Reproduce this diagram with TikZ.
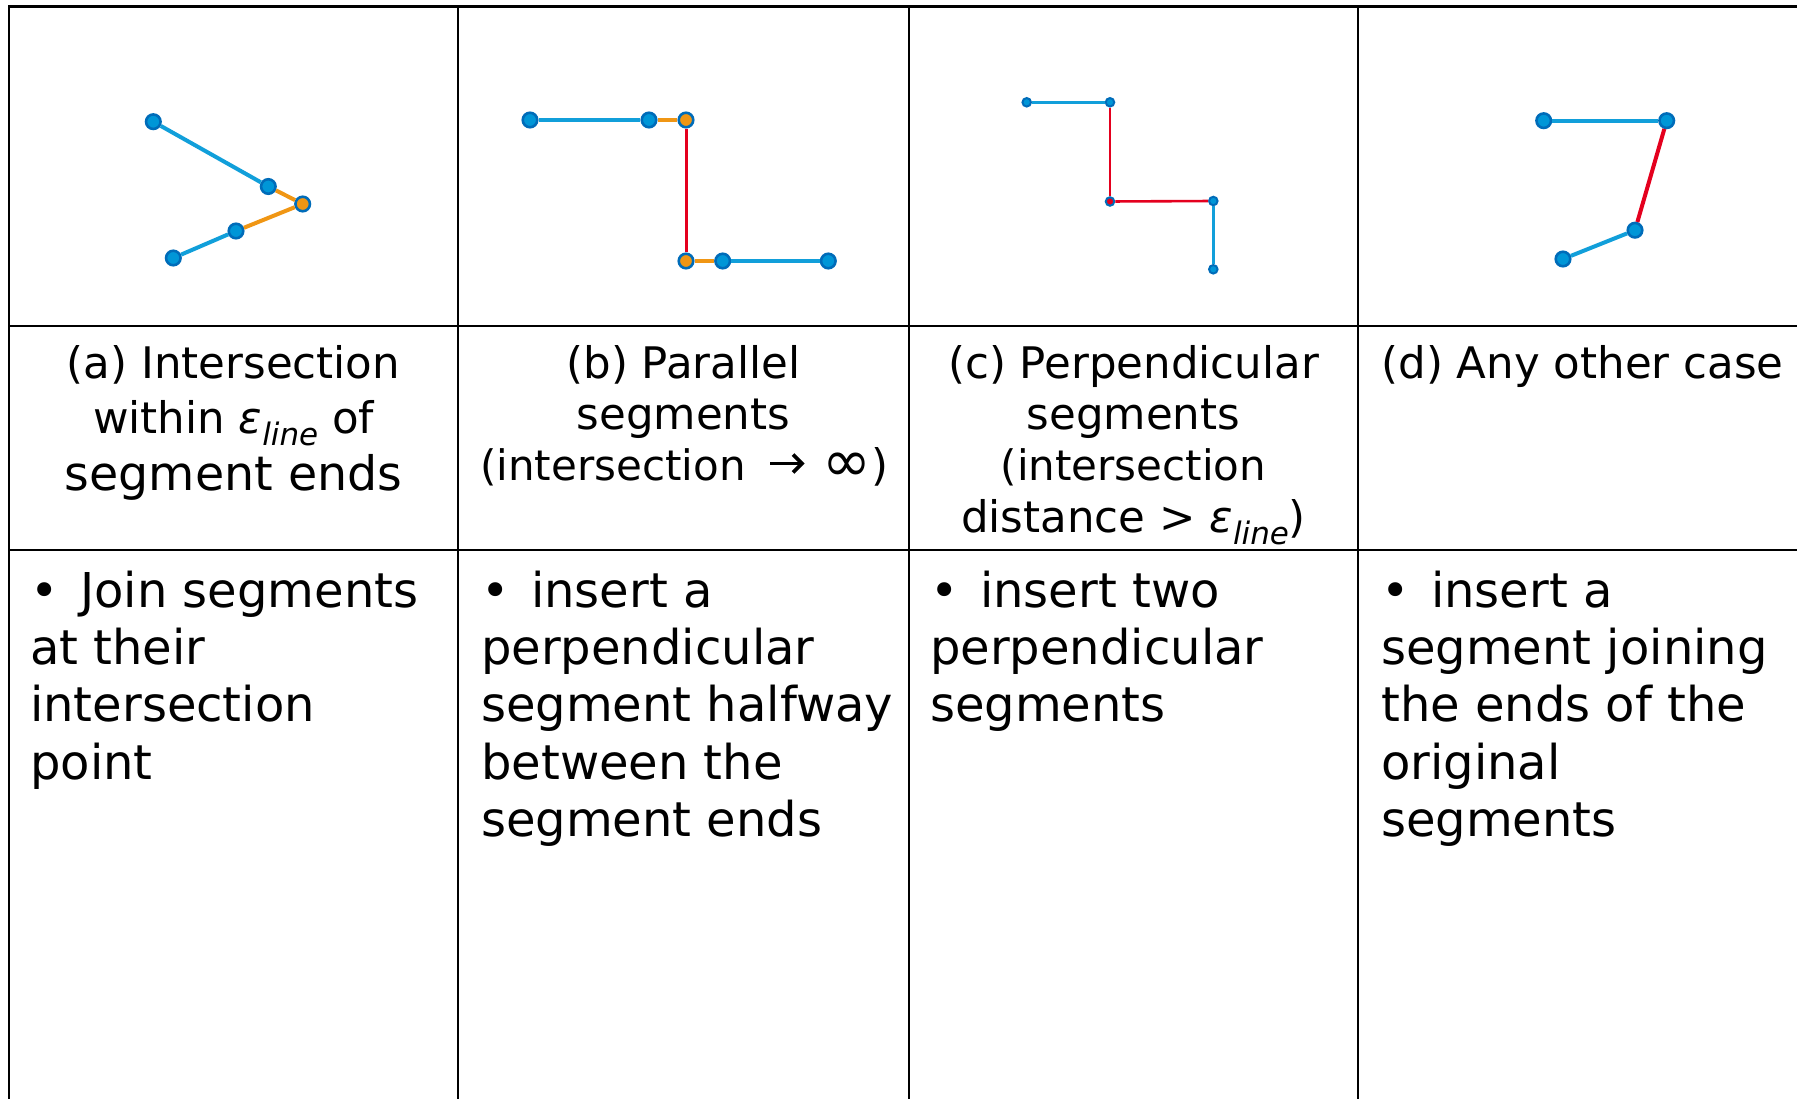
\documentclass[tikz,border=0pt]{standalone}
\usepackage{fontspec}
\setmainfont{DejaVu Sans}
\definecolor{lineblue}{RGB}{17,159,218}
\definecolor{dotfill}{RGB}{0,150,215}
\definecolor{dotedge}{RGB}{0,108,185}
\definecolor{segorange}{RGB}{240,150,20}
\definecolor{segred}{RGB}{228,0,30}
\newcommand\epsline{\textit{ε}\raisebox{-0.28em}{\fontsize{31}{31}\selectfont\itshape line}}
\begin{document}
\begin{tikzpicture}[x=1pt,y=-1pt,
  gridline/.style={line width=2.4pt,black},
  seg/.style={line width=4pt,lineblue},
  oseg/.style={line width=4pt,segorange},
  rseg/.style={line width=4pt,segred},
  thinseg/.style={line width=2.6pt,lineblue},
  thinrseg/.style={line width=2.6pt,segred},
  bdot/.style={circle,draw=dotedge,fill=dotfill,line width=2.6pt,minimum size=14.5pt,inner sep=0pt},
  odot/.style={bdot,fill=segorange},
  sdot/.style={circle,draw=dotedge,fill=dotfill,line width=2pt,minimum size=8.5pt,inner sep=0pt},
  srdot/.style={sdot,fill=segred},
  head/.style={anchor=base,inner sep=0pt,font=\fontsize{43.5}{56}\selectfont},
  headsm/.style={head,font=\fontsize{42}{56}\selectfont},
  body/.style={anchor=base west,inner sep=0pt,font=\fontsize{48}{57.5}\selectfont}]
\useasboundingbox (0,0) rectangle (1797,1099);
% table grid
\draw[gridline,line width=3pt] (8,7) -- (1797,7);
\draw[gridline] (8,326) -- (1797,326);
\draw[gridline] (8,550) -- (1797,550);
\draw[gridline] (9,6) -- (9,1099);
\draw[gridline,line width=1.6pt] (458,6) -- (458,1099);
\draw[gridline] (909,6) -- (909,1099);
\draw[gridline] (1358,6) -- (1358,1099);

% (a)
\node[bdot] (a1) at (153.3,121.7) {};
\node[bdot] (a2) at (268.3,186.5) {};
\node[odot] (ax) at (302.7,204) {};
\node[bdot] (a3) at (236,231) {};
\node[bdot] (a4) at (173.3,258) {};
\draw[seg] (a1) -- (a2);
\draw[oseg] (a2) -- (ax);
\draw[oseg] (ax) -- (a3);
\draw[seg] (a3) -- (a4);

% (b)
\node[bdot] (b1) at (530,120) {};
\node[bdot] (b2) at (649,120) {};
\node[odot] (bx1) at (686,120) {};
\node[odot] (bx2) at (686,261) {};
\node[bdot] (b3) at (722.7,261) {};
\node[bdot] (b4) at (828.3,261) {};
\draw[seg] (b1) -- (b2);
\draw[oseg] (b2) -- (bx1);
\draw[rseg,line width=3pt] (bx1) -- (bx2);
\draw[oseg] (bx2) -- (b3);
\draw[seg] (b3) -- (b4);

% (c)
\node[sdot] (c1) at (1026.7,102.3) {};
\node[sdot] (c2) at (1110,102.3) {};
\node[srdot] (cx) at (1110,201.5) {};
\node[sdot] (c3) at (1213.3,201) {};
\node[sdot] (c4) at (1213.3,269.3) {};
\draw[thinseg] (c1) -- (c2);
\draw[thinrseg] (c2) -- (cx);
\draw[thinrseg] (cx) -- (c3);
\draw[thinseg] (c3) -- (c4);

% (d)
\node[bdot] (d1) at (1543.7,120.7) {};
\node[bdot] (d2) at (1666.7,120.7) {};
\node[bdot] (d3) at (1635,230.2) {};
\node[bdot] (d4) at (1563,259) {};
\draw[seg] (d1) -- (d2);
\draw[rseg] (d2) -- (d3);
\draw[seg] (d3) -- (d4);

% headers
\node[head] (ha1) at (233.5,378) {(a) Intersection};
\node[head] (ha2) at (233.5,433) {within \epsline{} of};
\node[head,font=\fontsize{47.5}{56}\selectfont] (ha3) at (233.5,490) {segment ends};
\node[head] (hb1) at (683.5,378) {(b) Parallel};
\node[head] (hb2) at (683.5,429) {segments};
\node[headsm,anchor=base east] (hb3a) at (746,480) {(intersection};
\draw[line width=3.8pt] (770,463.5) -- (800,463.5);
\draw[line width=3.8pt,line join=miter] (793,454.5) -- (802,463.5) -- (793,472.5);
\node[head,anchor=base west] (hb3b) at (822,480) {\raisebox{-1pt}{\scalebox{1.35}{∞}})};
\node[head] (hc1) at (1133.5,378) {(c) Perpendicular};
\node[head] (hc2) at (1133.5,429) {segments};
\node[headsm] (hc3) at (1133.5,480) {(intersection};
\node[head] (hc4) at (1133.5,532) {distance > \epsline)};
\node[head] (hd1) at (1582.5,378) {(d) Any other case};

% bodies
\node[body] (ba1) at (30,607) {\makebox[50pt][l]{•}Join segments};
\node[body] (ba2) at (30,664) {at their};
\node[body] (ba3) at (30,721.5) {intersection};
\node[body] (ba4) at (30,779) {point};

\node[body] (bb1) at (481,607) {\makebox[50pt][l]{•}insert a};
\node[body] (bb2) at (481,664) {perpendicular};
\node[body] (bb3) at (481,721.5) {segment halfway};
\node[body] (bb4) at (481,779) {between the};
\node[body] (bb5) at (481,836.5) {segment ends};

\node[body] (bc1) at (930,607) {\makebox[50pt][l]{•}insert two};
\node[body] (bc2) at (930,664) {perpendicular};
\node[body] (bc3) at (930,721.5) {segments};

\node[body] (bd1) at (1381,607) {\makebox[50pt][l]{•}insert a};
\node[body] (bd2) at (1381,664) {segment joining};
\node[body] (bd3) at (1381,721.5) {the ends of the};
\node[body] (bd4) at (1381,779) {original};
\node[body] (bd5) at (1381,836.5) {segments};
\end{tikzpicture}
\end{document}
